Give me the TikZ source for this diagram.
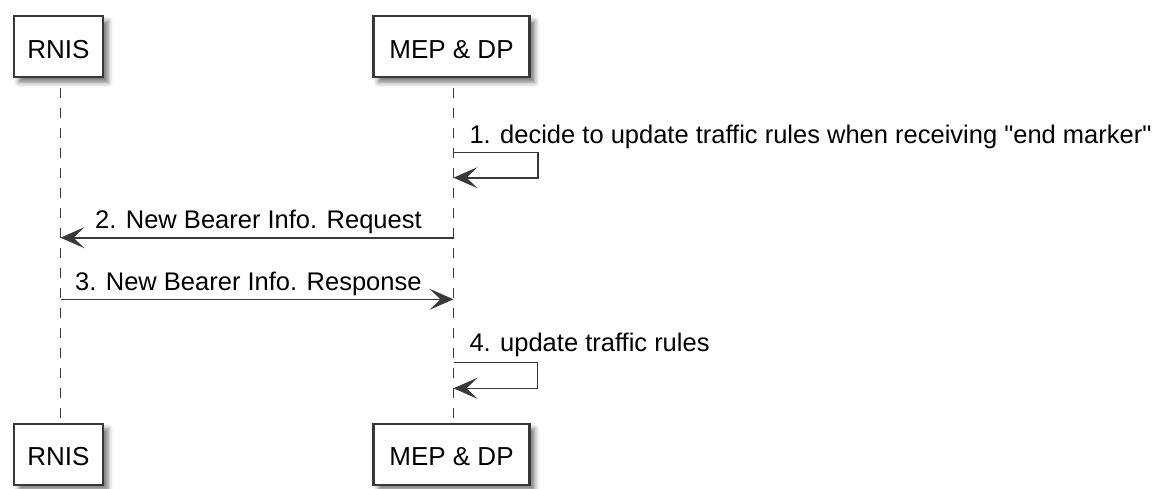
\documentclass[tikz,border=0pt]{standalone}
\usepackage{fontspec}
\setmainfont{Liberation Sans}[Ligatures=TeXOff]
\usetikzlibrary{arrows.meta,shadows.blur}
\definecolor{ink}{RGB}{56,56,56}
\pgfdeclarelayer{back}
\pgfsetlayers{back,main}

\begin{document}
\begin{tikzpicture}[x=1pt,y=-1pt,
  actor/.style={draw=ink, line width=2.2pt, fill=white, minimum height=61pt,
    inner sep=0pt, text height=22.5pt, text depth=0pt,
    font=\fontsize{26}{30}\selectfont,
    blur shadow={shadow xshift=5pt, shadow yshift=-5pt, shadow blur radius=5pt, shadow opacity=55}},
  lifeline/.style={draw=ink, line width=1.3pt, dash pattern=on 10pt off 10pt, dash phase=10pt},
  msg/.style={draw=ink, line width=1.6pt, -{Stealth[length=24pt,width=21pt,inset=11pt]}},
  lbl/.style={anchor=base west, inner sep=0pt, font=\fontsize{25.5}{30}\selectfont}
]
\useasboundingbox (0,0) rectangle (1160,488);

% participant boxes, head and foot
\node[actor, minimum width=89pt]  (rnisTop) at (58.5,46.75) {RNIS};
\node[actor, minimum width=156pt] (mepTop)  at (451.5,46.75) {MEP \& DP};
\node[actor, minimum width=89pt]  (rnisBot) at (58.5,454.2) {RNIS};
\node[actor, minimum width=156pt] (mepBot)  at (451.5,454.2) {MEP \& DP};

% lifelines, kept under the boxes
\coordinate (rL) at ([xshift=2pt]rnisTop.south);
\coordinate (mL) at ([xshift=2pt]mepTop.south);
\begin{pgfonlayer}{back}
\draw[lifeline] (rL) -- ([xshift=2pt]rnisBot.north);
\draw[lifeline] (mL) -- ([xshift=2pt]mepBot.north);
\end{pgfonlayer}

% 1. self message
\coordinate (m1a) at (mL |- 0,152.3);
\coordinate (m1b) at (538,152.3);
\coordinate (m1c) at (538,177.7);
\coordinate (m1d) at (mL |- 0,177.7);
\draw[msg] (m1a) -- (m1b) -- (m1c) -- (m1d);
\node[lbl] (t1) at (469.3,143) {1. decide to update traffic rules when receiving "end marker"};

% 2. request
\coordinate (m2s) at (mL |- 0,237.7);
\coordinate (m2e) at (rL |- 0,237.7);
\draw[msg] (m2s) -- (m2e);
\node[lbl] (t2) at (95,228.3) {2. New Bearer Info. Request};

% 3. response
\coordinate (m3s) at (rL |- 0,299.3);
\coordinate (m3e) at (mL |- 0,299.3);
\draw[msg] (m3s) -- (m3e);
\node[lbl] (t3) at (75,290) {3. New Bearer Info. Response};

% 4. self message
\coordinate (m4a) at (mL |- 0,362.3);
\coordinate (m4b) at (537.5,362.3);
\coordinate (m4c) at (537.5,388.3);
\coordinate (m4d) at (mL |- 0,388.3);
\draw[msg] (m4a) -- (m4b) -- (m4c) -- (m4d);
\node[lbl] (t4) at (469.3,351.7) {4. update traffic rules};
\end{tikzpicture}
\end{document}
